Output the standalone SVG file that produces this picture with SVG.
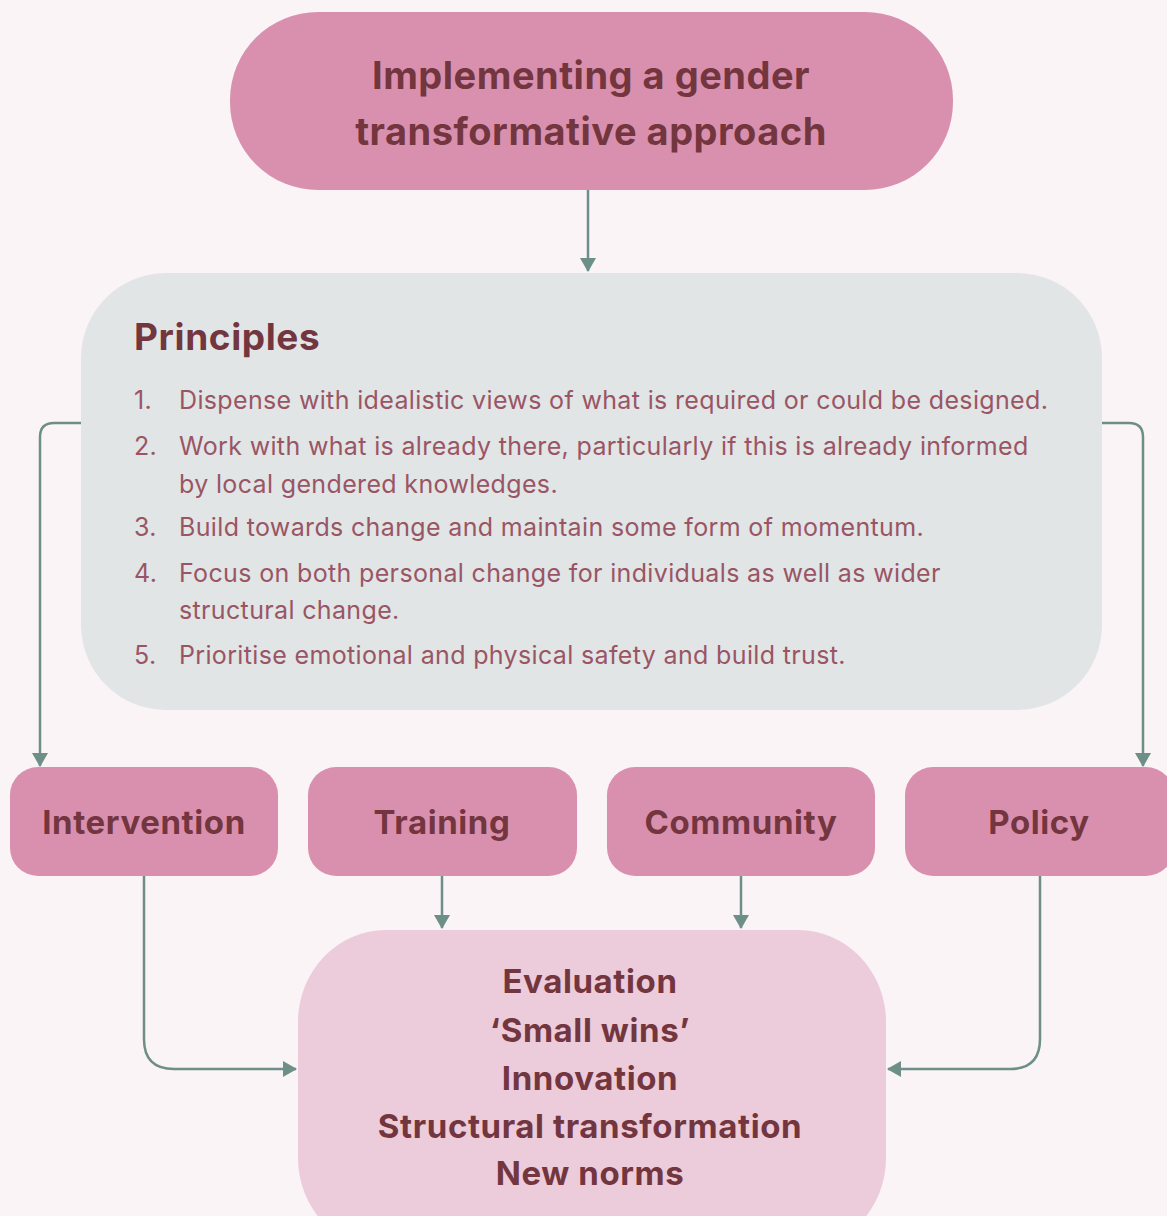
<svg xmlns="http://www.w3.org/2000/svg" width="1167" height="1216" viewBox="0 0 1167 1216">
  <style>
    .bg { fill: #faf4f6; }
    .pink { fill: #d990ae; }
    .soft { fill: #eccbda; }
    .grey { fill: #e1e5e6; }
    .head { font-family: Inter, "Liberation Sans", sans-serif; font-weight: 700; fill: #73363f; text-anchor: middle; }
    .title { font-size: 38px; letter-spacing: 0.5px; }
    .label { font-size: 33px; letter-spacing: 0.6px; }
    .ptitle { font-family: Inter, "Liberation Sans", sans-serif; font-weight: 700; font-size: 37px; letter-spacing: 0.6px; fill: #73363f; }
    .item { font-family: Inter, "Liberation Sans", sans-serif; font-size: 25px; letter-spacing: 0.35px; fill: #9a5564; }
    .wire { fill: none; stroke: #6e8f88; stroke-width: 2.5; }
  </style>
  <defs>
    <marker id="arrow" viewBox="0 0 14 16" refX="13" refY="8" markerWidth="14" markerHeight="16" markerUnits="userSpaceOnUse" orient="auto">
      <path d="M0,0 L14,8 L0,16 Z" fill="#6e8f88"/>
    </marker>
  </defs>

  <rect class="bg" x="0" y="0" width="1167" height="1216"/>

  <!-- connectors -->
  <g id="connectors">
    <path class="wire" d="M588,190 V271" marker-end="url(#arrow)"/>
    <path class="wire" d="M81,423 H54 Q40,423 40,437 V766" marker-end="url(#arrow)"/>
    <path class="wire" d="M1102,423 H1129 Q1143,423 1143,437 V766" marker-end="url(#arrow)"/>
    <path class="wire" d="M144,876 V1039 Q144,1069 174,1069 H296" marker-end="url(#arrow)"/>
    <path class="wire" d="M442,876 V928" marker-end="url(#arrow)"/>
    <path class="wire" d="M741,876 V928" marker-end="url(#arrow)"/>
    <path class="wire" d="M1040,876 V1039 Q1040,1069 1010,1069 H888" marker-end="url(#arrow)"/>
  </g>

  <!-- top node -->
  <g id="node-approach">
    <rect class="pink" x="230" y="12" width="723" height="178" rx="88" ry="88"/>
    <text class="head title" x="591" y="89">Implementing a gender</text>
    <text class="head title" x="591" y="145">transformative approach</text>
  </g>

  <!-- principles panel -->
  <g id="node-principles">
    <rect class="grey" x="81" y="273" width="1021" height="437" rx="85" ry="85"/>
    <text class="ptitle" x="134" y="350">Principles</text>
    <text class="item" x="134" y="409">1.</text>
    <text class="item" x="179" y="409">Dispense with idealistic views of what is required or could be designed.</text>
    <text class="item" x="134" y="455">2.</text>
    <text class="item" x="179" y="455">Work with what is already there, particularly if this is already informed</text>
    <text class="item" x="179" y="493">by local gendered knowledges.</text>
    <text class="item" x="134" y="536">3.</text>
    <text class="item" x="179" y="536">Build towards change and maintain some form of momentum.</text>
    <text class="item" x="134" y="582">4.</text>
    <text class="item" x="179" y="582">Focus on both personal change for individuals as well as wider</text>
    <text class="item" x="179" y="619">structural change.</text>
    <text class="item" x="134" y="664">5.</text>
    <text class="item" x="179" y="664">Prioritise emotional and physical safety and build trust.</text>
  </g>

  <!-- action nodes -->
  <g id="node-intervention">
    <rect class="pink" x="10" y="767" width="268" height="109" rx="28" ry="28"/>
    <text class="head label" x="144" y="834">Intervention</text>
  </g>
  <g id="node-training">
    <rect class="pink" x="308" y="767" width="269" height="109" rx="28" ry="28"/>
    <text class="head label" x="442" y="834">Training</text>
  </g>
  <g id="node-community">
    <rect class="pink" x="607" y="767" width="268" height="109" rx="28" ry="28"/>
    <text class="head label" x="741" y="834">Community</text>
  </g>
  <g id="node-policy">
    <rect class="pink" x="905" y="767" width="269" height="109" rx="28" ry="28"/>
    <text class="head label" x="1039" y="834">Policy</text>
  </g>

  <!-- outcomes node -->
  <g id="node-outcomes">
    <rect class="soft" x="298" y="930" width="588" height="320" rx="88" ry="92"/>
    <text class="head label" x="590" y="993">Evaluation</text>
    <text class="head label" x="590" y="1042">‘Small wins’</text>
    <text class="head label" x="590" y="1090">Innovation</text>
    <text class="head label" x="590" y="1138">Structural transformation</text>
    <text class="head label" x="590" y="1185">New norms</text>
  </g>
</svg>
